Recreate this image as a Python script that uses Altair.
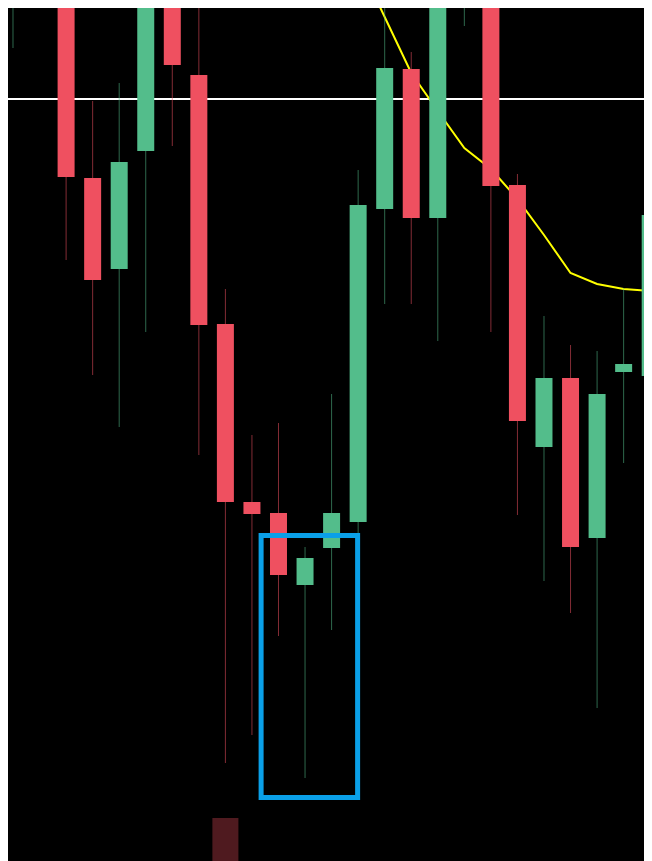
import altair as alt
import pandas as pd

# candle index (position along the time axis)
idx = [0, 2, 3, 4, 5, 6, 7, 8, 9, 10, 11, 12, 13, 14, 15, 16, 17, 18, 19, 20, 21, 22, 23, 24]
opens = [87.6, 90.1, 68.3, 59.2, 71.0, 90.1, 78.6, 53.7, 35.9, 34.8, 27.6, 31.3, 33.9, 65.2, 79.2, 64.3, 87.6, 89.1, 67.6, 41.4, 48.3, 32.3, 48.9, 48.5]
highs = [94.1, 92.1, 76.0, 77.8, 91.1, 92.1, 87.1, 57.2, 42.6, 43.8, 31.4, 46.7, 69.1, 88.1, 80.9, 92.1, 94.1, 91.1, 68.7, 54.5, 51.6, 51.0, 57.3, 77.0]
lows = [81.3, 60.1, 48.6, 43.4, 52.9, 71.5, 40.6, 9.8, 12.6, 22.5, 8.3, 23.1, 32.8, 55.7, 55.7, 52.0, 83.5, 52.9, 34.6, 28.0, 24.8, 15.3, 39.8, 43.2]
closes = [92.1, 68.4, 58.1, 69.9, 89.1, 79.6, 53.6, 35.9, 34.7, 28.6, 30.3, 34.8, 65.6, 79.3, 64.3, 89.1, 92.1, 67.5, 44.0, 48.3, 31.4, 46.7, 49.7, 64.6]

# moving average line
ma_idx = [13, 14, 15, 16, 17, 18, 19, 20, 21, 22, 23, 24]
ma_vals = [90.0, 84.4, 78.8, 75.0, 71.3, 69.2, 66.2, 62.6, 58.8, 57.7, 57.2, 57.0]

# horizontal level
level = [76.2]

# volume bar visible at bottom
vol_idx = [8]
vol_vals = [4.3]

# highlight box
box_x = [9.345]
box_x2 = [12.98]
box_y = [32.55]
box_y2 = [6.35]

GREEN = "#53bd8b"
RED = "#ef5060"

X_DOM = [-0.1883, 23.767]
Y_DOM = [0, 85.3]

xs = alt.Scale(domain=X_DOM, nice=False, zero=False)
ys = alt.Scale(domain=Y_DOM, nice=False, zero=False)

df = pd.DataFrame({"i": idx, "open": opens, "high": highs, "low": lows, "close": closes})
df["dir"] = ["up" if c >= o else "down" for o, c in zip(opens, closes)]

color = alt.Color("dir:N", scale=alt.Scale(domain=["up", "down"], range=[GREEN, RED]), legend=None)

base = alt.Chart(df)

wicks = base.mark_rule(strokeWidth=1, opacity=0.55, clip=True).encode(
    x=alt.X("i:Q", scale=xs, axis=None),
    y=alt.Y("low:Q", scale=ys, axis=None),
    y2="high:Q",
    color=color,
)

bodies = base.transform_calculate(
    xl="datum.i - 0.32", xr="datum.i + 0.32"
).mark_rect(clip=True).encode(
    x=alt.X("xl:Q", scale=xs, axis=None),
    x2="xr:Q",
    y=alt.Y("open:Q", scale=ys, axis=None),
    y2="close:Q",
    color=color,
)

vol = alt.Chart(pd.DataFrame({"i": vol_idx, "v": vol_vals})).transform_calculate(
    xl="datum.i - 0.49", xr="datum.i + 0.49", z="0"
).mark_rect(color="#4f1a1f", clip=True).encode(
    x=alt.X("xl:Q", scale=xs, axis=None),
    x2="xr:Q",
    y=alt.Y("v:Q", scale=ys, axis=None),
    y2="z:Q",
)

lvl = alt.Chart(pd.DataFrame({"p": level})).mark_rule(color="#ffffff", strokeWidth=2, clip=True).encode(
    y=alt.Y("p:Q", scale=ys, axis=None),
)

ma = alt.Chart(pd.DataFrame({"i": ma_idx, "m": ma_vals})).mark_line(
    color="#ffff00", strokeWidth=2, clip=True
).encode(
    x=alt.X("i:Q", scale=xs, axis=None),
    y=alt.Y("m:Q", scale=ys, axis=None),
)

box = alt.Chart(pd.DataFrame({"x": box_x, "x2": box_x2, "y": box_y, "y2": box_y2})).mark_rect(
    fill=None, filled=False, stroke="#0aa0e8", strokeWidth=5, clip=True
).encode(
    x=alt.X("x:Q", scale=xs, axis=None),
    x2="x2:Q",
    y=alt.Y("y:Q", scale=ys, axis=None),
    y2="y2:Q",
)

chart = alt.layer(vol, lvl, ma, wicks, bodies, box).properties(
    width=636, height=853, padding=0, background="#000000",
    autosize=alt.AutoSizeParams(type="none"),
).configure_view(stroke=None, fill="#000000")

chart.save("out.html", embed_options={"renderer": "svg", "actions": False})
